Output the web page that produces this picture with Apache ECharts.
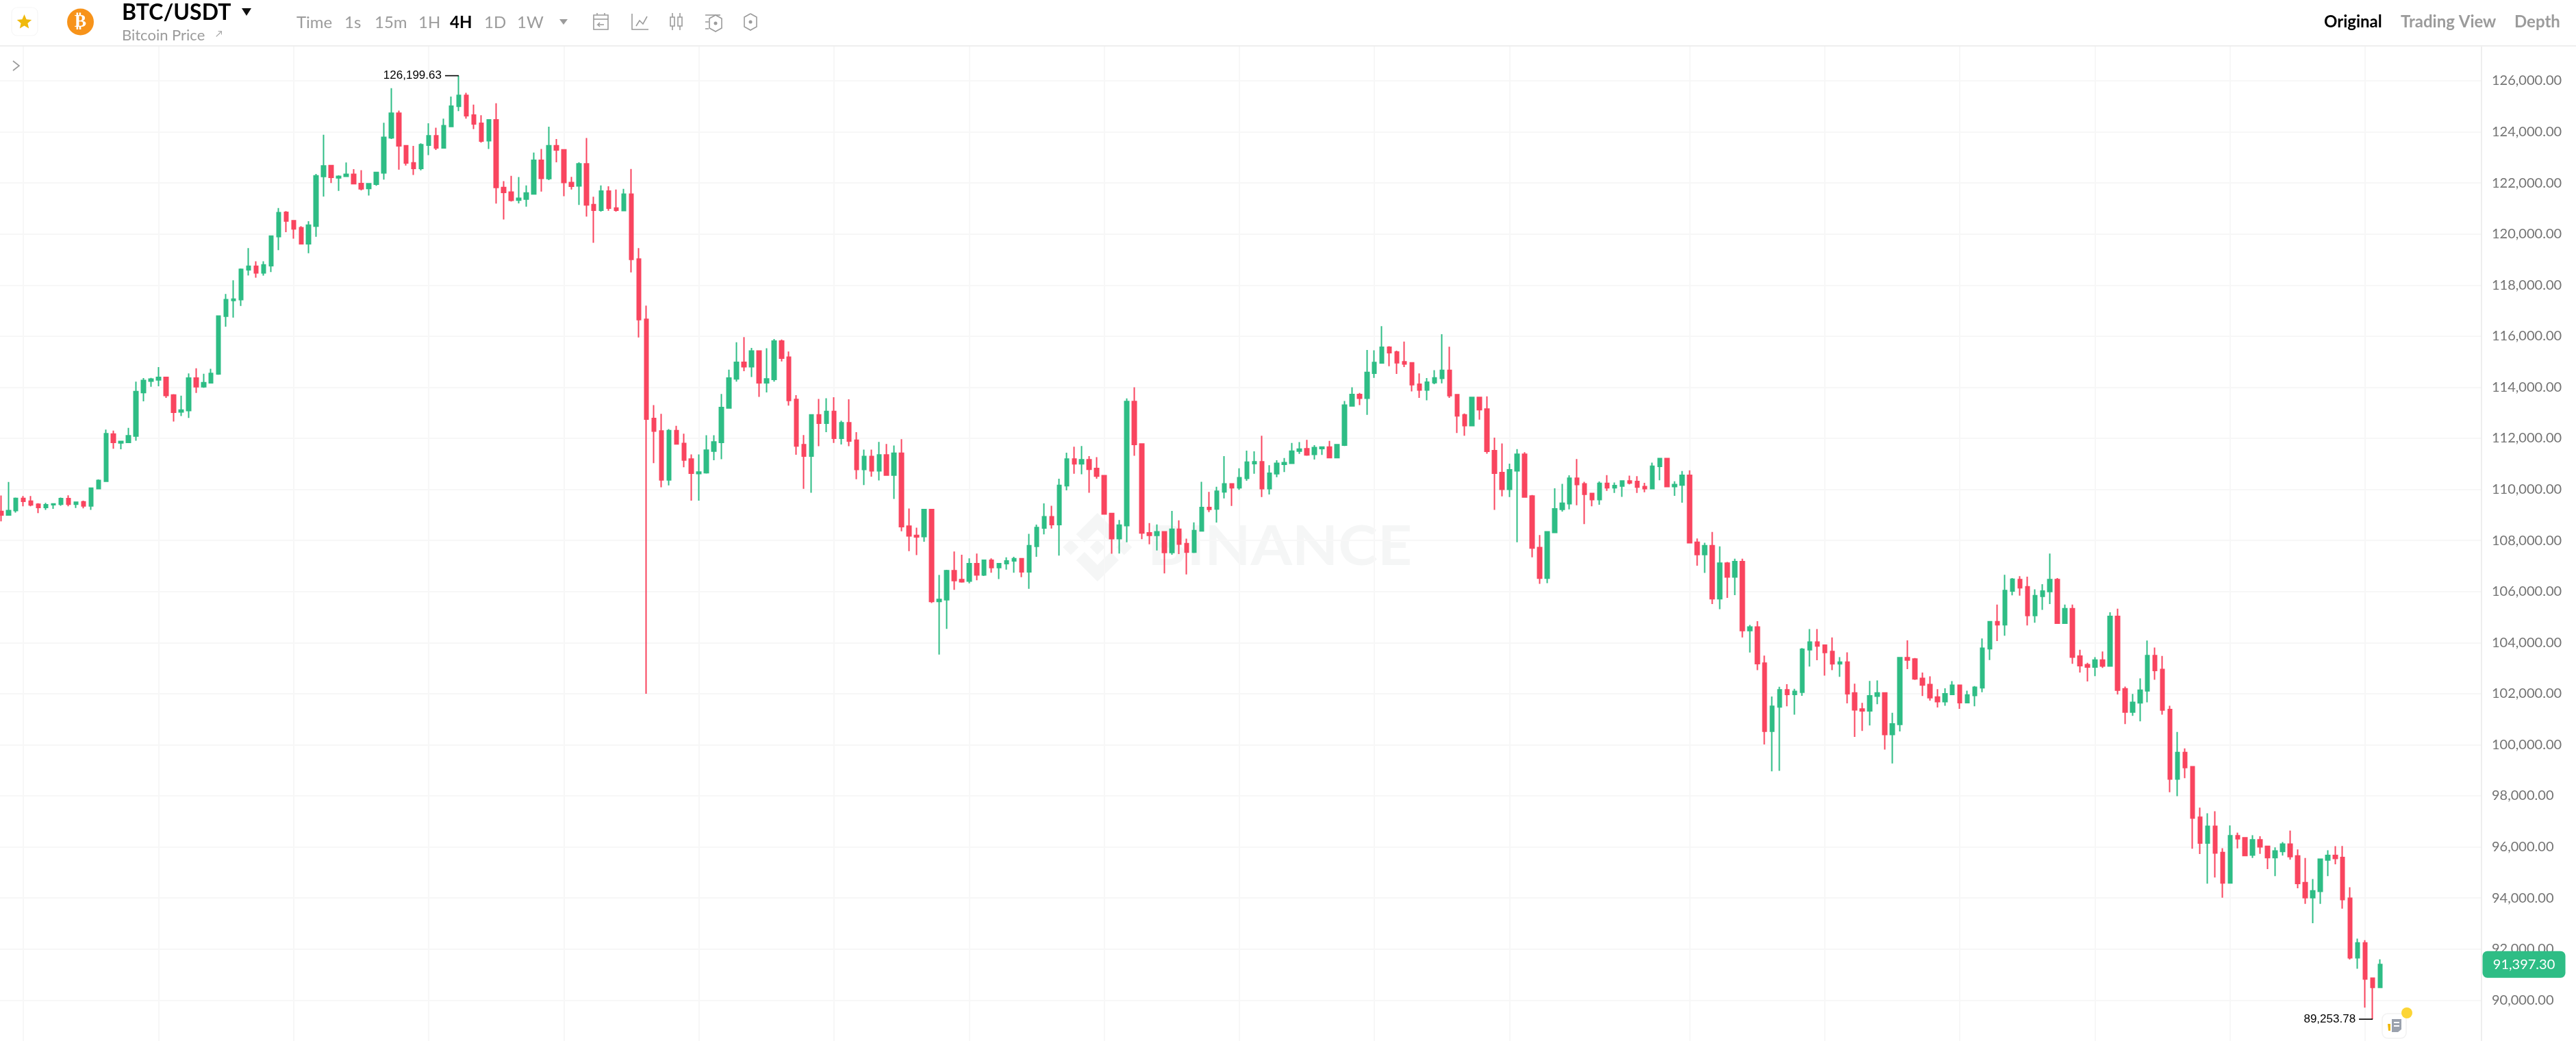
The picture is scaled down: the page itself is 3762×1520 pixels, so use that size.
<!DOCTYPE html>
<html>
<head>
<meta charset="utf-8">
<style>html,body{margin:0;padding:0;background:#fff;overflow:hidden}#c{width:3762px;height:1520px}</style>
<script src="https://cdn.jsdelivr.net/npm/echarts@6/dist/echarts.min.js"></script>
</head>
<body>
<div id="c"></div>
<script>
// every row: [open, close, low, high]
const candlesA = [
[109140,109000,108750,109760],[109000,109170,108990,110290],[109170,109650,109090,109680],[109650,109530,109340,109740],
[109540,109390,109340,109740],[109420,109290,109070,109460],[109290,109400,109200,109470],[109400,109430,109240,109440],
[109420,109640,109360,109680],[109640,109420,109340,109770],[109420,109500,109270,109520],[109510,109350,109260,109560],
[109350,110050,109200,110050],[110030,110350,110020,110390],[110320,112180,110300,112340],[112170,111840,111590,112300],
[111820,111880,111570,111890],[111840,112100,111840,112410],[112090,113830,111910,114220],[113790,114270,113450,114360],
[114240,114320,114020,114370],[114290,114390,114040,114790],[114390,113680,113580,114400],[113700,113020,112660,113730],
[113030,113110,112870,113670],[113090,114360,112800,114540],[114360,114020,113780,114740],[114020,114180,113980,114530],
[114170,114540,114170,114720],[114520,116790,114490,116800],[116780,117430,116370,117650],[117400,117450,116730,118190],
[117430,118620,117180,118650],[118600,118740,118380,119450],[118740,118480,118290,118930],[118480,118790,118370,118930],
[118760,119920,118510,119930],[119900,120840,119370,121020],[120850,120510,120070,120900],[120520,120200,119820,120520],
[120250,119620,119620,120310],[119620,120350,119250,120500],[120310,122280,119890,122350],[122250,122670,121470,123890],
[122680,122220,122000,122710],[122200,122260,121690,122300]];
const candlesB = [
[122260,122340,122240,122800],[122340,121970,121960,122540],[121980,121770,121710,122500],[121780,121970,121510,121970],
[121950,122410,121890,122410],[122390,123790,122130,124360],[123770,124730,123720,125710],[124730,123450,122520,124830],
[123460,122780,122680,123480],[122790,122570,122310,123450],[122570,123500,122490,123550],[123480,123850,123090,124340],
[123850,123370,123290,124160],[123370,124240,123360,124520],[124210,125010,124190,125380],[125000,125430,124810,126199.63],
[125430,124630,124520,125530],[124660,124310,124110,125070],[124340,123640,123580,124650],[123650,124470,123330,124500],
[124470,121820,121190,125120],[121820,121630,120570,122070],[121640,121320,121270,122280],[121330,121400,121200,122230],
[121370,121610,121070,121900],[121570,122890,121540,123190],[122890,122180,121660,123330],[122170,123460,122110,124200],
[123460,123290,122810,123720],[123300,122020,121480,123310],[122020,121870,121740,122240],[121880,122750,121140,122810],
[122750,121140,120680,123760],[121150,120930,119660,121460],[120930,121680,120880,121900],[121680,121010,120910,121870],
[121020,120930,120880,121740],[120920,121560,120910,121770],[121560,119010,118500,122550],[119020,116650,115950,119450],
[116660,112750,102000,117200],[112780,112280,111030,113300],[112290,110370,110080,112960],[110370,112300,110160,112360]];
const candlesC = [
[112300,111780,111770,112490],[111800,111150,110870,112180],[111190,110630,109560,111370],[110620,110680,109560,111370],
[110650,111540,110620,112120],[111500,111860,111140,112120],[111840,113210,111180,113740],[113190,114360,113180,114690],
[114330,114980,114220,115760],[114980,114800,114630,115960],[114800,115420,114400,115540],[115420,114170,113620,115430],
[114170,114330,113800,115530],[114310,115810,114220,115890],[115810,115140,115010,115870],[115180,113480,113280,115400],
[113520,111700,111360,113690],[111750,111300,110020,112130],[111300,112920,109870,112940],[112920,112590,111690,113540],
[112590,113050,112240,113570],[113050,112000,111820,113610],[112000,112610,111760,112690],[112610,111890,111690,113530],
[111930,110780,110400,112240],[110780,111290,110170,111560],[111290,110730,110500,111560],[110730,111350,110350,111860],
[111350,110560,110560,111780],[110560,111420,109630,111720],[111420,108540,108360,111970],[108560,108180,107580,109250],
[108200,108140,107430,108500],[108150,109210,107950,109230],[109210,105610,105550,109240],[105610,105690,103530,106650],
[105680,106820,104540,106850],[106820,106430,106070,107570],[106470,106380,106350,107440],[106410,107090,106320,107300],
[107090,106650,106440,107490],[106650,107230,106610,107230],[107230,106940,106740,107300],[106940,107090,106490,107100]];
const candlesD = [
[107090,107200,106860,107340],[107200,107290,106740,107360],[107290,106770,106560,107300],[106770,107800,106110,108260],
[107770,108510,107360,108620],[108490,108930,108240,109450],[108930,108620,108470,109360],[108620,110160,107410,110420],
[110140,111190,109960,111440],[111190,111000,110610,111670],[111000,111160,110590,111700],[111160,110790,109870,111300],
[110820,110520,110420,111260],[110540,109040,109030,110560],[109060,108070,107480,109080],[108070,108600,107490,108800],
[108580,113440,107930,113560],[113440,111760,111320,114000],[111780,108290,108050,111800],[108300,108200,107850,108680],
[108200,108340,107610,108630],[108340,107530,106710,108350],[107530,108440,107440,109160],[108440,107860,107470,108790],
[107880,107540,106670,108070],[107540,108390,107510,108710],[108370,109290,108360,110300],[109290,109220,109110,109900],
[109230,109930,108700,110100],[109900,110220,109650,111300],[110220,110060,109350,110220],[110060,110460,109980,110830],
[110430,111070,110340,111520],[111010,111080,110610,111490],[111080,110030,109700,112100],[110030,110630,109800,110950],
[110610,111020,110480,111140],[110980,111050,110680,111230],[111020,111500,111010,111820],[111500,111580,111390,111850],
[111590,111350,111320,111940],[111370,111640,111170,111730],[111600,111660,111350,111680],[111660,111240,111240,111900]];
const candlesE = [
[111240,111750,111240,111750],[111730,113300,111700,113460],[113270,113720,113260,114000],[113720,113570,113300,113780],
[113570,114580,112920,115460],[114550,114970,114370,115450],[114950,115570,114940,116390],[115570,115350,114820,115610],
[115380,114960,114520,115430],[115000,114910,114790,115790],[114960,114100,113840,114960],[114120,113890,113580,114540],
[113890,114200,113490,114360],[114180,114370,114120,114670],[114350,114660,114150,116080],[114660,113670,113580,115590],
[113710,112880,112210,113720],[112920,112500,112100,112970],[112500,113600,112500,113600],[113600,113120,112730,113610],
[113150,111490,111400,113640],[111520,110630,109200,112030],[110660,110000,109730,111800],[110000,110770,109700,111010],
[110730,111380,107930,111580],[111380,109700,109690,111460],[109740,107700,107340,109780],[107720,106520,106300,108210],
[106520,108340,106330,108340],[108310,109240,108290,110040],[109220,109460,109130,110220],[109440,110440,109220,110550],
[110440,110190,109380,111190],[110220,109810,108640,110300],[109840,109600,109340,109840],[109600,110240,109400,110310],
[110240,110060,109940,110560],[110060,110150,109860,110270],[110130,110330,109710,110350],[110330,110250,110200,110540],
[110310,110090,109860,110520],[110110,110030,109890,110260],[110030,110910,110030,111050]];
const candlesF = [
[110900,111210,110360,111220],[111210,110110,110100,111230],[110110,110190,109750,110320],[110170,110550,109480,110720],
[110550,107910,107910,110750],[107930,107450,107010,108080],[107450,107800,106730,107910],[107800,105720,105510,108330],
[105720,107110,105310,107770],[107110,106570,105750,107160],[106570,107170,105860,107290],[107170,104470,104200,107290],
[104470,104610,103610,104690],[104610,103180,102920,104840],[103200,100530,100010,103490],[100530,101510,98960,101890],
[101480,102150,98980,102270],[102150,101970,101510,102370],[101970,102090,101180,102190],[102060,103740,101920,103790],
[103720,104020,103060,104530],[104020,103870,103310,104530],[103900,103610,102710,103920],[103650,103170,102920,104200],
[103170,103240,102660,103430],[103240,102000,101620,103620],[102030,101370,100310,102390],[101400,101330,100540,101640],
[101330,101920,100760,102500],[101900,102030,101590,102520],[102030,100400,99810,102040],[100400,100820,99270,101250],
[100800,103410,100520,103410],[103410,103320,102960,104090],[103360,102580,102540,103400],[102600,102340,101910,102830],
[102360,101840,101730,102680],[101870,101690,101460,102180],[101690,102000,101530,102210],[101970,102330,101960,102490],
[102330,101650,101410,102330],[101650,101950,101640,102120],[101930,102250,101510,102300],[102230,103780,102060,104160]];
const candlesG = [
[103760,104820,103320,104820],[104820,104700,104060,105490],[104700,106040,104270,106660],[106020,106480,105850,106530],
[106470,106150,105840,106600],[106190,105060,104670,106580],[105060,105840,104780,106090],[105810,106020,105280,106290],
[106000,106470,105510,107490],[106470,104760,104740,106530],[104760,105330,104750,105490],[105330,103430,103170,105490],
[103470,103100,102830,103720],[103140,103040,102480,103210],[103040,103320,102690,103430],[103320,103080,103010,103650],
[103080,105030,103080,105190],[105030,102140,101970,105330],[102190,101280,100810,102280],[101280,101660,101130,101990],
[101640,102140,100920,102600],[102110,103490,101660,104080],[103490,102910,102550,103810],[102950,101360,101180,103480],
[101380,98660,98140,101530],[98660,99700,97990,100500],[99700,99110,98690,99860],[99140,97130,95930,99170],
[97160,96150,95720,97540],[96150,96810,94560,97320],[96810,95760,94800,97400],[95780,94590,94010,95950],
[94590,96440,94590,96840],[96440,96320,95940,96560],[96360,95660,95640,96360],[95680,96280,95570,96460],
[96280,96000,95730,96420],[96020,95580,95130,96030],[95580,95840,94860,95980],[95820,96110,95660,96190],
[96110,95620,95500,96640],[95650,94570,94380,95900],[94600,94010,93770,95570],[94010,94280,93010,94740],
[94260,95520,93770,95540],[95490,95670,94860,95870],[95670,95550,95320,96030],[95590,93940,93580,96040],
[93990,91660,91590,94420],[91660,92240,91230,92410],[92240,90830,89710,92350],[90860,90500,89253.78,90870],
[90500,91397.30,90500,91600]];

const lastPrice = 91397.30;
const peak = {index: 61, value: 126199.63};
const trough = {index: 316, value: 89253.78};
const gridCandles = [3,21,39,57,75,93,111,129,147,165,183,201,225,243,261,279,297,315];
const emptySlots = 13;

const UP = '#2EBD85', DOWN = '#F9455F', GRID = '#F7F7F7', MUTED = '#9B9B9B';
const candles = [].concat(candlesA, candlesB, candlesC, candlesD, candlesE, candlesF, candlesG);
const categories = candles.map((_, i) => String(i)).concat(Array.from({length: emptySlots}, (_, i) => 'e' + i));
const money = v => v.toLocaleString('en-US', {minimumFractionDigits: 2, maximumFractionDigits: 2});

// page furniture around the chart
const LATO = 'Lato, "Open Sans", sans-serif';
const txt = (text, x, y, size, fill, weight, align) => ({type: 'text', z: 101, silent: true, x, y,
  style: {text, fontSize: size, fontFamily: LATO, fontWeight: weight || 400, fill, textAlign: align || 'left', textVerticalAlign: 'middle'}});
const pl = (points, stroke, w) => ({type: 'polyline', z: 101, silent: true, shape: {points}, style: {stroke: stroke || MUTED, lineWidth: w || 1.6, fill: null}});
const pg = (points, fill, z) => ({type: 'polygon', z: z === undefined ? 101 : z, silent: true, shape: {points}, style: {fill}});
const box = (x, y, w, h, stroke, r, lw) => ({type: 'rect', z: 101, silent: true, shape: {x, y, width: w, height: h, r: r || 0}, style: {stroke: stroke || MUTED, lineWidth: lw || 1.6, fill: '#fff'}});
const dot = (cx, cy, r, fill, stroke) => ({type: 'circle', z: 101, silent: true, shape: {cx, cy, r}, style: {fill: fill || null, stroke: stroke || null, lineWidth: 1.6}});
const hex = (cx, cy) => pl([[cx, cy - 12], [cx + 9, cy - 7], [cx + 9, cy + 7], [cx, cy + 12], [cx - 9, cy + 7], [cx - 9, cy - 7], [cx, cy - 12]]);

const WM = '#F5F6F6', lx = 1602.7, ly = 799;
const off = pts => pts.map(p => [lx + p[0], ly + p[1]]);
const diamond = (cx, cy, h) => off([[cx, cy - h], [cx + h, cy], [cx, cy + h], [cx - h, cy]]);
const watermark = [
  pg(off([[0,-50],[31,-19],[19,-7],[0,-26],[-19,-7],[-31,-19]]), WM, 0),
  pg(off([[0,50],[31,19],[19,7],[0,26],[-19,7],[-31,19]]), WM, 0),
  pg(diamond(-39, 0, 11.5), WM, 0),
  pg(diamond(39, 0, 11.5), WM, 0),
  pg(diamond(0, 0, 11), WM, 0),
  {type: 'text', z: 0, silent: true, x: 1676, y: 799, scaleX: 1.09,
   style: {text: 'BINANCE', fontSize: 80, fontWeight: 700, fontFamily: LATO, fill: WM, textVerticalAlign: 'middle'}}
];

const star = [[35.5,21],[38.6,28.2],[46.2,28.9],[40.4,34],[42.2,41.6],[35.5,37.6],[28.8,41.6],[30.6,34],[24.8,28.9],[32.4,28.2]];
const header = [
  {type: 'rect', z: 100, silent: true, shape: {x: 0, y: 0, width: 3762, height: 66}, style: {fill: '#fff'}},
  {type: 'rect', z: 100, silent: true, shape: {x: 0, y: 66, width: 3762, height: 2}, style: {fill: '#EEEEEE'}},
  box(17, 11, 38, 41, '#F6F6F6', 8, 1.2),
  pg(star, '#F0B90B'),
  dot(117.5, 32, 19.5, '#F7931A'),
  {type: 'text', z: 102, silent: true, x: 117.5, y: 32, style: {text: '₿', fontSize: 26, fontWeight: 700, fontFamily: '"DejaVu Sans"', fill: '#fff', textAlign: 'center', textVerticalAlign: 'middle'}},
  txt('BTC/USDT', 178, 19, 32, '#000', 700),
  pg([[353,12],[367,12],[360,23]], '#111'),
  txt('Bitcoin Price', 178, 52, 22, MUTED),
  txt('↗', 315, 50, 13, MUTED),
  txt('Time', 433, 33, 24, MUTED),
  txt('1s', 503, 33, 24, MUTED),
  txt('15m', 547, 33, 24, MUTED),
  txt('1H', 611, 33, 24, MUTED),
  txt('4H', 657, 33, 24, '#000', 700),
  txt('1D', 707, 33, 24, MUTED),
  txt('1W', 755, 33, 24, MUTED),
  pg([[817,28],[829,28],[823,36]], MUTED),
  // calendar
  box(867, 22, 21, 21), pl([[867,28],[888,28]]), pl([[872,19],[872,22]]), pl([[883,19],[883,22]]), pl([[882,36],[873,36],[876,33]]), pl([[873,36],[876,39]]),
  // line chart
  pl([[923,20],[923,43],[947,43]]), pl([[929,38],[934,30],[939,35],[945,24]]),
  // candles
  box(979, 25, 6, 13), pl([[982,19],[982,25]]), pl([[982,38],[982,44]]), box(990, 25, 6, 13), pl([[993,19],[993,25]]), pl([[993,38],[993,44]]),
  // settings
  pl([[1030,22],[1052,22]]), pl([[1030,32],[1035,32]]), pl([[1030,42],[1035,42]]), hex(1045, 34), dot(1045, 34, 2.5, MUTED),
  // replay
  hex(1096, 32), dot(1096, 32, 2.5, MUTED),
  txt('Original', 3394, 32, 24, '#000', 700),
  txt('Trading View', 3506, 32, 24, MUTED, 700),
  txt('Depth', 3672, 32, 24, MUTED, 700),
  pl([[19,89],[28,96],[19,103]], '#999', 1.6),
  // news button
  box(3479, 1480, 35, 36, '#F2F2F2', 8, 1.5),
  pg([[3487,1495],[3491,1495],[3491,1505],[3488,1505]], '#F0B90B'),
  pg([[3493,1488],[3507,1488],[3507,1503],[3502,1507],[3493,1507]], '#9AA1AD'),
  {type: 'rect', z: 102, silent: true, shape: {x: 3496, y: 1492, width: 8, height: 2}, style: {fill: '#fff'}},
  {type: 'rect', z: 102, silent: true, shape: {x: 3496, y: 1497, width: 8, height: 2}, style: {fill: '#fff'}},
  dot(3515, 1479, 8, '#FCD535')
];

const extremeLabel = {show: true, position: 'left', distance: 5, color: '#000', fontSize: 17, fontFamily: '"Liberation Sans"'};
const chart = echarts.init(document.getElementById('c'), null, {renderer: 'canvas'});
chart.setOption({
  animation: false,
  backgroundColor: '#fff',
  grid: {left: -4.18, width: 3628.2, top: 43.42, height: 1491.5, outerBoundsMode: 'none'},
  xAxis: {
    type: 'category', data: categories,
    axisLabel: {show: false}, axisTick: {show: false}, axisLine: {show: false},
    splitLine: {show: true, alignWithLabel: true, interval: i => gridCandles.includes(i), lineStyle: {color: GRID, width: 2}}
  },
  yAxis: {
    type: 'value', position: 'right', min: 88000, max: 128000, interval: 2000, scale: true,
    axisLine: {show: true, onZero: false, lineStyle: {color: '#EEEEEE', width: 2}},
    axisTick: {show: false},
    axisLabel: {margin: 15, align: 'left', fontSize: 20, color: '#737373', fontFamily: LATO, formatter: money},
    splitLine: {show: true, lineStyle: {color: GRID, width: 2}}
  },
  series: [{
    type: 'candlestick', data: candles, barWidth: 6, silent: true, clip: false,
    itemStyle: {color: UP, color0: DOWN, borderColor: UP, borderColor0: DOWN, borderWidth: 2},
    markPoint: {
      silent: true, animation: false, z: 6,
      symbol: 'rect', symbolSize: [20, 1.6], symbolOffset: [-10, 0],
      itemStyle: {color: '#000'}, label: extremeLabel,
      data: [
        {coord: [peak.index, peak.value], label: {formatter: money(peak.value)}},
        {coord: [trough.index, trough.value], label: {formatter: money(trough.value)}}
      ]
    },
    markLine: {
      silent: true, animation: false, symbol: 'none', z: 6,
      lineStyle: {color: 'rgba(0,0,0,0)', width: 1},
      label: {show: true, position: 'end', distance: 2, offset: [60, 0], formatter: money(lastPrice), color: '#fff', fontSize: 20,
        fontFamily: LATO, backgroundColor: UP, borderRadius: 7, width: 121, height: 29, lineHeight: 29, padding: [10, 0, 0, 0], align: 'center'},
      data: [{yAxis: lastPrice}]
    }
  }],
  graphic: {elements: watermark.concat(header)}
});
</script>
</body>
</html>
